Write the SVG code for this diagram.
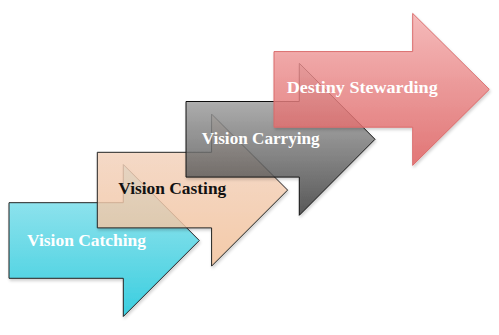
<svg xmlns="http://www.w3.org/2000/svg" width="499" height="335" viewBox="0 0 499 335">
<style>
.arrow{stroke-width:1;stroke-linejoin:miter;fill-opacity:0.8}
.lbl{font-family:"Liberation Serif","Times New Roman",serif;font-weight:bold;font-size:17px}
.w{fill:#ffffff}
.b{fill:#111111}
</style>
<defs>
<linearGradient id="gCyan" x1="0" y1="0" x2="0" y2="1"><stop offset="0" stop-color="#9ae9f4"/><stop offset="1" stop-color="#14c8dd"/></linearGradient>
<linearGradient id="gPeach" x1="0" y1="0" x2="0" y2="1"><stop offset="0" stop-color="#f7dccb"/><stop offset="1" stop-color="#f6c39b"/></linearGradient>
<linearGradient id="gGrey" x1="0" y1="0" x2="0" y2="1"><stop offset="0" stop-color="#c2c2c2"/><stop offset="1" stop-color="#383838"/></linearGradient>
<linearGradient id="gRed" x1="0" y1="0" x2="0" y2="1"><stop offset="0" stop-color="#f7b0b0"/><stop offset="1" stop-color="#e05c5c"/></linearGradient>
<filter id="sh" x="-10%" y="-10%" width="130%" height="130%"><feDropShadow dx="1" dy="2" stdDeviation="1.5" flood-color="#000" flood-opacity="0.22"/></filter>
</defs>
<g id="arrow-vision-catching" transform="translate(9,240.5)">
<path class="arrow" filter="url(#sh)" d="M0,-37.8 H114.3 V-76 L190.3,0 L114.3,76 V37.8 H0 Z" fill="url(#gCyan)" stroke="#222"/>
<text class="lbl w" x="18" y="5.2" textLength="119" lengthAdjust="spacingAndGlyphs">Vision Catching</text>
</g>
<g id="arrow-vision-casting" transform="translate(97.3,190.1)">
<path class="arrow" filter="url(#sh)" d="M0,-37.8 H114.3 V-76 L190.3,0 L114.3,76 V37.8 H0 Z" fill="url(#gPeach)" stroke="#222"/>
<text class="lbl b" x="21" y="4.2" textLength="108" lengthAdjust="spacingAndGlyphs">Vision Casting</text>
</g>
<g id="arrow-vision-carrying" transform="translate(186,139.3)">
<path class="arrow" filter="url(#sh)" d="M0,-37.8 H113.3 V-76 L189,0 L113.3,76 V37.8 H0 Z" fill="url(#gGrey)" stroke="#111"/>
<text class="lbl w" x="15.7" y="4.7" textLength="118" lengthAdjust="spacingAndGlyphs">Vision Carrying</text>
</g>
<g id="arrow-destiny-stewarding" transform="translate(274,89.4)">
<path class="arrow" filter="url(#sh)" d="M0,-37.8 H138.7 V-76 L215.3,0 L138.7,76 V37.8 H0 Z" fill="url(#gRed)" stroke="#d96a6a"/>
<text class="lbl w" x="12.7" y="3.9" textLength="151" lengthAdjust="spacingAndGlyphs">Destiny Stewarding</text>
</g>
<g id="connectors"></g>
</svg>
